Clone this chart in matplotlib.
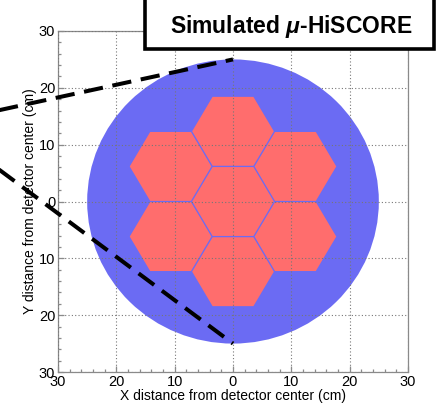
import numpy as np
import matplotlib
matplotlib.use("Agg")
import matplotlib.pyplot as plt
from matplotlib.patches import Circle, Polygon, Rectangle

plt.rcParams['font.family'] = ['Liberation Sans', 'DejaVu Sans']
plt.rcParams['mathtext.fontset'] = 'custom'
plt.rcParams['mathtext.rm'] = 'Liberation Sans:bold'
plt.rcParams['mathtext.it'] = 'Liberation Sans:bold:italic'
plt.rcParams['mathtext.bf'] = 'Liberation Sans:bold'

# ---- data (cm) ----
disk_center = (0.0, 0.0)
disk_radius = 25.0
hex_radius = 7.0
hex_x = [0.0, 0.0, 10.7, 10.7, 0.0, -10.7, -10.7]
hex_y = [0.0, 12.35, 6.17, -6.17, -12.35, -6.17, 6.17]
line_apex = (-50.7, 13.7)
line_end_x = [0.0, 0.0]
line_end_y = [25.0, -25.0]
tick_values = [-30, -20, -10, 0, 10, 20, 30]
tick_labels = ['30', '20', '10', '0', '10', '20', '30']
title_text = r'Simulated $\mu$-HiSCORE'
xlabel = 'X distance from detector center (cm)'
ylabel = 'Y distance from detector center (cm)'

blue = '#6b6bf3'
red = '#ff6d6d'
gray = '#8a8a8a'

W, H = 439, 405
fig = plt.figure(figsize=(W / 100, H / 100), dpi=100)
ax = fig.add_axes([58 / W, 1 - 372 / H, 350 / W, 341 / H])
ax.set_xlim(-30, 30)
ax.set_ylim(-30, 30)

ax.add_patch(Circle(disk_center, disk_radius, facecolor=blue, edgecolor='none', zorder=1))
ang = np.deg2rad(np.arange(0, 360, 60))
for cx, cy in zip(hex_x, hex_y):
    verts = np.column_stack([cx + hex_radius * np.cos(ang), cy + hex_radius * np.sin(ang)])
    ax.add_patch(Polygon(verts, closed=True, facecolor=red, edgecolor='none', zorder=1.5))

for ex, ey in zip(line_end_x, line_end_y):
    ax.plot([line_apex[0], ex], [line_apex[1], ey], color='black', lw=2.9,
            dashes=(4.8, 2.4), dash_capstyle='butt', clip_on=False, zorder=5)

ax.set_axisbelow(False)
ax.grid(True, color='#777777', linestyle=(0, (1, 2)), linewidth=0.8)
ax.set_xticks(tick_values)
ax.set_xticklabels(tick_labels)
ax.set_yticks(tick_values)
ax.set_yticklabels(tick_labels)
ax.set_xticks(np.arange(-30, 31, 2), minor=True)
ax.set_yticks(np.arange(-30, 31, 2), minor=True)
ax.tick_params(which='both', direction='in', color=gray, width=0.9,
               top=False, right=False, labelsize=10.5)
ax.tick_params(which='major', length=4.5)
ax.tick_params(which='minor', length=2.3)
ax.tick_params(axis='x', pad=2.2)
ax.tick_params(axis='y', pad=2.0)
for s in ax.spines.values():
    s.set_color(gray)
    s.set_linewidth(0.9)

fig.text(233 / W, 1 - 396 / H, xlabel, ha='center', va='center', fontsize=10)
fig.text(30 / W, 1 - 201 / H, ylabel, ha='center', va='center', rotation=90, fontsize=10)

fig.patches.append(Rectangle((145 / W, 1 - 49 / H), 289 / W, 53 / H, transform=fig.transFigure,
                             facecolor='white', edgecolor='black', lw=2.6, zorder=10))
fig.text(291 / W, 1 - 26 / H, title_text, ha='center', va='center', fontsize=16.5,
         fontweight='bold', zorder=11)

fig.savefig('out.png', dpi=100)
